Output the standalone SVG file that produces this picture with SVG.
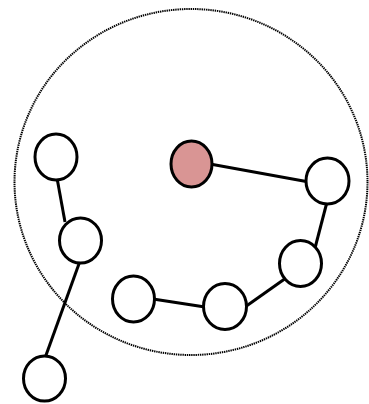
<svg xmlns="http://www.w3.org/2000/svg" width="369" height="404" viewBox="0 0 369 404">
<style>
.n{fill:#fff;stroke:#000;stroke-width:3}
.p{fill:#d99594;stroke:#000;stroke-width:3}
.e{stroke:#000;stroke-width:3;fill:none}
.b{fill:none;stroke:#000;stroke-width:2;stroke-dasharray:1.4 0.8}
</style>
<rect width="369" height="404" fill="#fff"/>
<g id="boundary"><ellipse class="b" cx="191" cy="182" rx="176.5" ry="173"/></g>
<g id="connectors">
<line class="e" x1="57" y1="178" x2="65" y2="222"/>
<line class="e" x1="80" y1="261" x2="45" y2="358"/>
<line class="e" x1="210" y1="164" x2="309" y2="182"/>
<line class="e" x1="327" y1="202" x2="315" y2="248"/>
<line class="e" x1="286" y1="278" x2="245" y2="307"/>
<line class="e" x1="205" y1="307" x2="153" y2="299"/>
</g>
<g id="n1"><ellipse class="n" cx="56" cy="157" rx="21" ry="23"/></g>
<g id="n2"><ellipse class="p" cx="191.5" cy="164" rx="20.5" ry="23"/></g>
<g id="n3"><ellipse class="n" cx="327.5" cy="181" rx="21.5" ry="23"/></g>
<g id="n4"><ellipse class="n" cx="80.5" cy="240.5" rx="21" ry="22.5"/></g>
<g id="n5"><ellipse class="n" cx="44.5" cy="378.5" rx="21" ry="22.5"/></g>
<g id="n6"><ellipse class="n" cx="300.5" cy="263.5" rx="21" ry="23"/></g>
<g id="n7"><ellipse class="n" cx="225" cy="306.5" rx="21.5" ry="23"/></g>
<g id="n8"><ellipse class="n" cx="133.5" cy="299" rx="21" ry="23"/></g>
</svg>
